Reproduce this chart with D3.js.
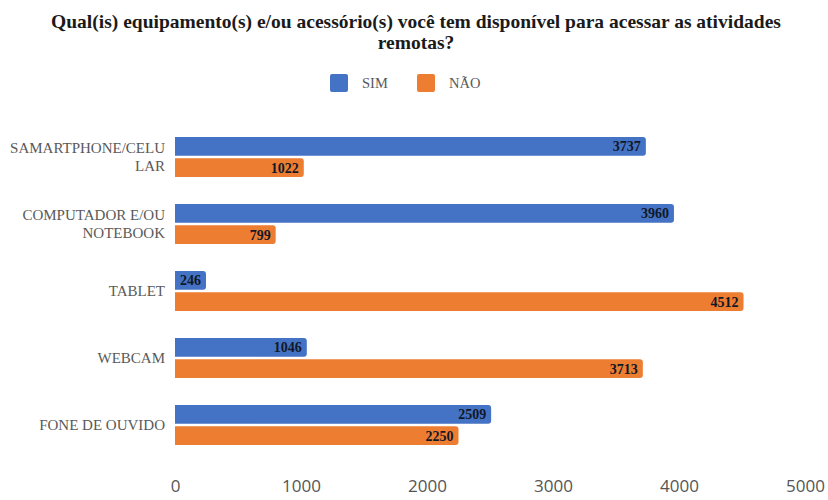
<!DOCTYPE html>
<html>
<head>
<meta charset="utf-8">
<script src="https://cdn.jsdelivr.net/npm/d3@7"></script>
<style>
  html, body { margin: 0; padding: 0; background: #fff; }
  svg { display: block; }
</style>
</head>
<body>
<svg id="chart" width="828" height="500"></svg>
<script>
const titleLines = ["Qual(is) equipamento(s) e/ou acessório(s) você tem disponível para acessar as atividades", "remotas?"];
const categories = ["SAMARTPHONE/CELULAR", "COMPUTADOR E/OU NOTEBOOK", "TABLET", "WEBCAM", "FONE DE OUVIDO"];
const categoryLabelLines = [["SAMARTPHONE/CELU", "LAR"], ["COMPUTADOR E/OU", "NOTEBOOK"], ["TABLET"], ["WEBCAM"], ["FONE DE OUVIDO"]];
const seriesNames = ["SIM", "NÃO"];
const simValues = [3737, 3960, 246, 1046, 2509];
const naoValues = [1022, 799, 4512, 3713, 2250];
const xTicks = [0, 1000, 2000, 3000, 4000, 5000];
const colors = ["#4472C4", "#ED7D31"];

const svg = d3.select("#chart");
const serif = "Liberation Serif, Times New Roman, DejaVu Serif, serif";

// Title
svg.append("g").selectAll("text").data(titleLines).join("text")
  .attr("x", 416).attr("y", 28).attr("dy", (d, i) => i * 21)
  .attr("text-anchor", "middle")
  .attr("font-family", serif).attr("font-weight", "bold")
  .attr("font-size", 19.5).attr("fill", "#1a1a1a")
  .text(d => d);

// Legend
const legend = svg.append("g");
const legendItems = [{x: 330, name: seriesNames[0], c: colors[0]}, {x: 417, name: seriesNames[1], c: colors[1]}];
legendItems.forEach(it => {
  legend.append("rect").attr("x", it.x).attr("y", 74).attr("width", 18).attr("height", 18).attr("rx", 2).attr("fill", it.c);
  legend.append("text").attr("x", it.x + 32).attr("y", 88)
    .attr("font-family", serif).attr("font-size", 14.5).attr("fill", "#595959").text(it.name);
});

// Scales
const x = d3.scaleLinear().domain([0, 5000]).range([175, 805]);
const y = d3.scaleBand().domain(categories).range([123.5, 458.5]).padding(0);
const yInner = d3.scaleBand().domain(seriesNames).range([-20, 20]).paddingInner(0.12);

const data = categories.map((c, i) => ({cat: c, lines: categoryLabelLines[i], vals: [simValues[i], naoValues[i]]}));

function barPath(x0, y0, w, h, r) {
  r = Math.min(r, w / 2, h / 2);
  return `M${x0},${y0}H${x0 + w - r}Q${x0 + w},${y0} ${x0 + w},${y0 + r}V${y0 + h - r}Q${x0 + w},${y0 + h} ${x0 + w - r},${y0 + h}H${x0}Z`;
}

const groups = svg.append("g").selectAll("g").data(data).join("g")
  .attr("transform", d => `translate(0,${y(d.cat) + y.bandwidth() / 2})`);

groups.each(function(d) {
  const g = d3.select(this);
  d.vals.forEach((v, k) => {
    const s = seriesNames[k];
    const y0 = yInner(s);
    const h = yInner.bandwidth();
    g.append("path")
      .attr("d", barPath(x(0), y0, x(v) - x(0), h, 3))
      .attr("fill", colors[k]);
    g.append("text")
      .attr("x", x(v) - 5).attr("y", y0 + h / 2 + 5)
      .attr("text-anchor", "end")
      .attr("font-family", serif).attr("font-weight", "bold")
      .attr("font-size", 14).attr("fill", "#111827")
      .text(v);
  });
  const n = d.lines.length;
  g.append("g").selectAll("text").data(d.lines).join("text")
    .attr("x", 165)
    .attr("y", (t, i) => (i - (n - 1) / 2) * 18 + 5)
    .attr("text-anchor", "end")
    .attr("font-family", serif).attr("font-size", 15).attr("fill", "#595959")
    .text(t => t);
});

// X axis
const xAxis = d3.axisBottom(x).tickValues(xTicks).tickSize(0).tickPadding(0).tickFormat(d3.format("d"));
const ax = svg.append("g").attr("transform", "translate(0,480)").call(xAxis);
ax.select(".domain").remove();
ax.selectAll("text").attr("font-family", "Open Sans, Noto Sans, sans-serif").attr("font-size", 17).attr("fill", "#555");
</script>
</body>
</html>
